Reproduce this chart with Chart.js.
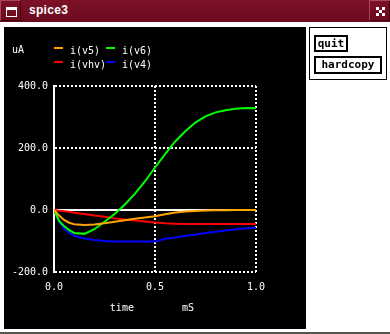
<!DOCTYPE html>
<html>
<head>
<meta charset="utf-8">
<script src="https://cdn.jsdelivr.net/npm/chart.js@4/dist/chart.umd.min.js"></script>
<style>
  body { margin: 0; width: 390px; height: 334px; background: #fff; overflow: hidden; position: relative; }
  #titlebar { position: absolute; left: 0; top: 0; width: 390px; height: 22px; background: linear-gradient(#7e1026, #6a0a1d); }
  #titlebar .box { position: absolute; top: 0; width: 21px; height: 21px; border-top: 1px solid #a8485c; border-left: 1px solid #a8485c; border-right: 1px solid #3e0511; border-bottom: 1px solid #3e0511; box-sizing: border-box; }
  #winicon { position: absolute; left: 5px; top: 6px; width: 11px; height: 10px; border: 1px solid #fff; border-top-width: 3px; box-sizing: border-box; }
  #maxicon { position: absolute; left: 6px; top: 6px; width: 9px; height: 9px;
    background:
      linear-gradient(#fff, #fff) 0 0 / 3px 3px no-repeat,
      linear-gradient(#fff, #fff) 6px 0 / 3px 3px no-repeat,
      linear-gradient(#fff, #fff) 0 6px / 3px 3px no-repeat,
      linear-gradient(#fff, #fff) 6px 6px / 3px 3px no-repeat,
      linear-gradient(#fff, #fff) 3px 3px / 3px 3px no-repeat; }
  #title { position: absolute; left: 29px; top: 3px; color: #fff; font: bold 12px "Liberation Sans", sans-serif; letter-spacing: 0.3px; }
  #plot { position: absolute; left: 4px; top: 27px; width: 302px; height: 302px; background: #000; }
  #plot canvas { position: absolute; left: 0; top: 0; }
  #unit { position: absolute; left: 8px; top: 17px; color: #fff; font: 10px "DejaVu Sans Mono", monospace; }
  #legend { position: absolute; left: 50px; top: 16px; display: grid; grid-template-columns: 52px 52px; }
  #legend .item { display: flex; align-items: center; height: 14px; color: #fff; font: 10px "DejaVu Sans Mono", monospace; white-space: pre; }
  #legend .sw { width: 10px; height: 2px; margin-right: 7px; position: relative; top: -2px; }
  #panel { position: absolute; left: 309px; top: 27px; width: 78px; height: 53px; border: 1px solid #000; box-sizing: border-box; }
  .btn { position: absolute; border: 2px solid #000; box-sizing: border-box; font: bold 11px "DejaVu Sans Mono", monospace; color: #000; text-align: center; line-height: 13px; }
  #bottomline { position: absolute; left: 0; top: 332px; width: 390px; height: 2px; background: #55534c; }
</style>
</head>
<body>
<div id="titlebar">
  <div class="box" style="left:0"><div id="winicon"></div></div>
  <div id="title">spice3</div>
  <div class="box" style="left:369px"><div id="maxicon"></div></div>
</div>
<div id="plot">
  <canvas id="spiceChart" width="302" height="302"></canvas>
  <div id="unit">uA</div>
  <div id="legend"></div>
</div>
<div id="panel">
  <div class="btn" style="left:4px; top:7px; width:34px; height:17px;">quit</div>
  <div class="btn" style="left:4px; top:28px; width:68px; height:18px;">hardcopy</div>
</div>
<div id="bottomline"></div>
<script>
// transient analysis, time in mS, currents in uA
const timeMs = [0, 0.025, 0.05, 0.075, 0.1, 0.15, 0.2, 0.25, 0.3, 0.35, 0.4, 0.45, 0.5,
  0.55, 0.6, 0.65, 0.7, 0.75, 0.8, 0.85, 0.9, 0.95, 1.0];
const iV5 = [0, -18, -32, -41, -46, -48, -47, -43, -38, -33, -28, -24, -20,
  -14, -8, -5, -3, -2, -1, -1, 0, 0, 0];
const iV6 = [0, -35, -52, -65, -74, -77, -62, -38, -13, 17, 52, 92, 137,
  180, 221, 254, 282, 302, 315, 322, 327, 329, 328];
const iVhv = [0, -2, -4, -6, -9, -13, -18, -22, -27, -31, -34, -37, -40,
  -43, -44, -45, -45, -45, -45, -45, -45, -45, -45];
const iV4 = [0, -38, -60, -74, -83, -92, -97, -100, -102, -102, -102, -102, -102,
  -93, -89, -84, -79, -74, -70, -66, -62, -59, -57];

const seriesNames = ["i(v5) ", "i(v6) ", "i(vhv)", "i(v4) "];
const seriesColors = ["#ffa500", "#00ff00", "#ff0000", "#0000ff"];
const xTicks = [0, 0.5, 1.0];
const yTicks = [-200, 0, 200, 400];

function toPoints(values) {
  return values.map((v, i) => ({ x: timeMs[i], y: v }));
}

// legend drawn as html so the items sit in two columns
const htmlLegend = {
  id: "htmlLegend",
  afterUpdate(chart) {
    const box = document.getElementById("legend");
    box.innerHTML = "";
    chart.options.plugins.legend.labels.generateLabels(chart)
      .filter((item) => item.text)
      .forEach((item) => {
        const row = document.createElement("div");
        row.className = "item";
        const sw = document.createElement("span");
        sw.className = "sw";
        sw.style.background = item.strokeStyle;
        row.appendChild(sw);
        row.appendChild(document.createTextNode(item.text));
        box.appendChild(row);
      });
  },
};

Chart.defaults.font.family = "'DejaVu Sans Mono', monospace";
Chart.defaults.font.size = 10;
Chart.defaults.color = "#ffffff";

const series = [iV5, iV6, iVhv, iV4];
const datasets = series.map((vals, i) => ({
  label: seriesNames[i],
  data: toPoints(vals),
  borderColor: seriesColors[i],
  backgroundColor: seriesColors[i],
  borderWidth: 2,
  pointRadius: 0,
  fill: false,
}));
// white zero line across the whole run
datasets.push({
  label: "",
  data: [{ x: timeMs[0], y: 0 }, { x: timeMs[timeMs.length - 1], y: 0 }],
  borderColor: "#ffffff",
  borderWidth: 2,
  pointRadius: 0,
});

const ctx = document.getElementById("spiceChart").getContext("2d");
new Chart(ctx, {
  type: "line",
  data: { datasets: datasets },
  plugins: [htmlLegend],
  options: {
    responsive: false,
    animation: false,
    devicePixelRatio: 1,
    layout: { padding: { top: 59, right: 50, left: 0, bottom: 0 } },
    plugins: { legend: { display: false }, tooltip: { enabled: false } },
    scales: {
      x: {
        type: "linear",
        min: 0,
        max: 1,
        afterFit: (scale) => { scale.height = 57; },
        afterBuildTicks: (scale) => { scale.ticks = xTicks.map((v) => ({ value: v })); },
        ticks: { padding: 9, callback: (v) => v.toFixed(1) },
        grid: {
          drawTicks: false,
          lineWidth: 2,
          color: (c) => (c.tick && c.tick.value === 0 ? "rgba(0,0,0,0)" : "#ffffff"),
        },
        border: { display: false, dash: [2, 2] },
        title: {
          display: true,
          text: "time        mS ",
          padding: { top: 0, bottom: 15 },
        },
      },
      y: {
        min: -200,
        max: 400,
        afterFit: (scale) => { scale.width = 50; },
        afterBuildTicks: (scale) => { scale.ticks = yTicks.map((v) => ({ value: v })); },
        ticks: { padding: 6, callback: (v) => v.toFixed(1) },
        grid: {
          drawTicks: false,
          lineWidth: 2,
          color: (c) => (c.tick && c.tick.value === 0 ? "rgba(0,0,0,0)" : "#ffffff"),
        },
        border: { display: true, color: "#ffffff", width: 2, dash: [2, 2] },
      },
    },
  },
});
</script>
</body>
</html>
